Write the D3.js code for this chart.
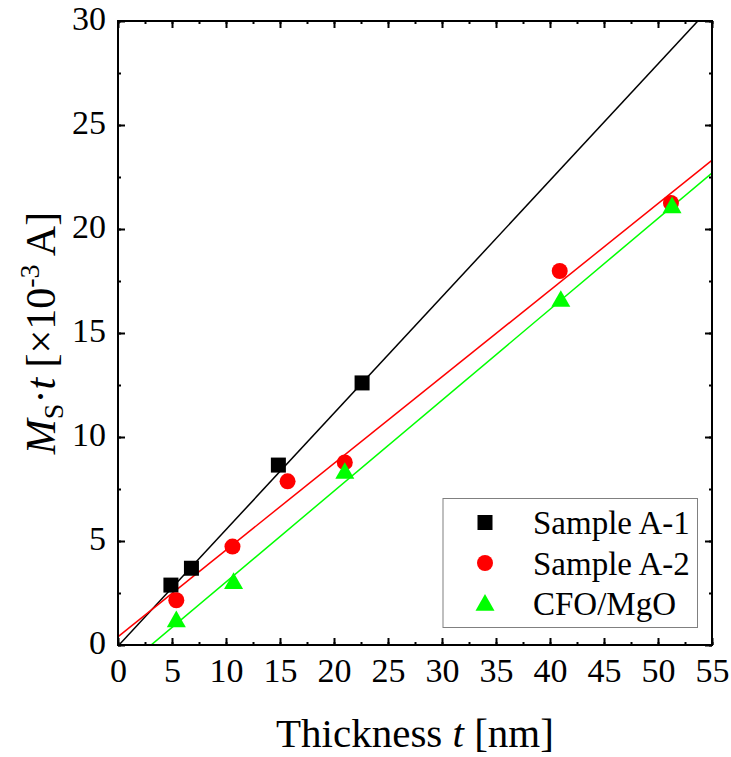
<!DOCTYPE html>
<html><head><meta charset="utf-8">
<script src="https://cdn.jsdelivr.net/npm/d3@7"></script>
<style>body{margin:0;background:#fff}svg{display:block}text{font-family:"Liberation Serif","Times New Roman",serif;fill:#000}</style>
</head><body>
<script>
const seriesNames = ["Sample A-1", "Sample A-2", "CFO/MgO"];
const seriesColors = ["#000000", "#ff0000", "#00ff00"];
const seriesShapes = ["square", "circle", "triangle"];
const a1X = [4.9, 6.8, 14.85, 22.6];
const a1Y = [2.88, 3.69, 8.65, 12.6];
const a2X = [5.4, 10.6, 15.7, 21.0, 40.9, 51.2];
const a2Y = [2.15, 4.73, 7.87, 8.78, 17.98, 21.25];
const cfoX = [5.4, 10.7, 21.0, 41.0, 51.3];
const cfoY = [1.2, 3.04, 8.33, 16.6, 21.1];
const fitSlope = [0.5597, 0.4164, 0.437];
const fitIntercept = [-0.05, 0.4, -1.34];
const xTicks = [0, 5, 10, 15, 20, 25, 30, 35, 40, 45, 50, 55];
const yTicks = [0, 5, 10, 15, 20, 25, 30];

const W = 731, H = 757;
const m = {l: 118, t: 21, r: 712, b: 645};
const svg = d3.select("body").append("svg").attr("width", W).attr("height", H);
const x = d3.scaleLinear().domain([0, 55]).range([m.l, m.r]);
const y = d3.scaleLinear().domain([0, 30]).range([m.b, m.t]);

svg.append("clipPath").attr("id", "clip").append("rect")
  .attr("x", m.l).attr("y", m.t).attr("width", m.r - m.l).attr("height", m.b - m.t);

// fit lines
const g = svg.append("g").attr("clip-path", "url(#clip)");
fitSlope.forEach((s, i) => {
  const b = fitIntercept[i];
  g.append("line")
    .attr("x1", x(-5)).attr("y1", y(s * -5 + b))
    .attr("x2", x(60)).attr("y2", y(s * 60 + b))
    .attr("stroke", seriesColors[i]).attr("stroke-width", 1.5);
});

function symbol(sel, shape, color, cx, cy) {
  if (shape === "square") {
    sel.append("rect").attr("x", cx - 7.5).attr("y", cy - 7.5).attr("width", 15).attr("height", 15).attr("fill", color);
  } else if (shape === "circle") {
    sel.append("circle").attr("cx", cx).attr("cy", cy).attr("r", 8).attr("fill", color);
  } else {
    const s = 9.5;
    sel.append("path").attr("d", `M${cx},${cy - s}L${cx + s},${cy + s * 0.75}L${cx - s},${cy + s * 0.75}Z`).attr("fill", color);
  }
}
const sets = [[a1X, a1Y], [a2X, a2Y], [cfoX, cfoY]];
const pg = svg.append("g");
sets.forEach(([xs, ys], i) => {
  xs.forEach((v, j) => symbol(pg, seriesShapes[i], seriesColors[i], x(v), y(ys[j])));
});

// axes (ticks inward)
const fs = 34;
const xMinor = d3.range(0, 55.01, 2.5);
const yMinor = d3.range(0, 30.01, 2.5);
function addAxis(axis, transform, showLabels) {
  const a = svg.append("g").attr("transform", transform).call(axis);
  a.select(".domain").remove();
  a.selectAll("line").attr("stroke", "#000").attr("stroke-width", 2);
  if (!showLabels) a.selectAll("text").remove();
  else a.selectAll("text").style("font-size", fs + "px").style("font-family", '"Liberation Serif",serif').attr("fill", "#000");
  return a;
}
const fmt = d3.format("d");
addAxis(d3.axisBottom(x).tickValues(xMinor).tickSize(-3).tickFormat(""), `translate(0,${m.b})`, false);
addAxis(d3.axisBottom(x).tickValues(xTicks).tickSize(-7).tickPadding(13).tickFormat(fmt), `translate(0,${m.b})`, true);
addAxis(d3.axisTop(x).tickValues(xMinor).tickSize(-3).tickFormat(""), `translate(0,${m.t})`, false);
addAxis(d3.axisTop(x).tickValues(xTicks).tickSize(-7).tickFormat(""), `translate(0,${m.t})`, false);
addAxis(d3.axisLeft(y).tickValues(yMinor).tickSize(-3).tickFormat(""), `translate(${m.l},0)`, false);
const yl = addAxis(d3.axisLeft(y).tickValues(yTicks).tickSize(-7).tickPadding(12).tickFormat(fmt), `translate(${m.l},0)`, true);
yl.selectAll("text").attr("dy", "0.25em");
addAxis(d3.axisRight(y).tickValues(yMinor).tickSize(-3).tickFormat(""), `translate(${m.r},0)`, false);
addAxis(d3.axisRight(y).tickValues(yTicks).tickSize(-7).tickFormat(""), `translate(${m.r},0)`, false);

svg.append("rect").attr("x", m.l).attr("y", m.t).attr("width", m.r - m.l).attr("height", m.b - m.t)
  .attr("fill", "none").attr("stroke", "#000").attr("stroke-width", 2);

// legend
const lg = svg.append("g");
lg.append("rect").attr("x", 443).attr("y", 498.5).attr("width", 254.5).attr("height", 129)
  .attr("fill", "#fff").attr("stroke", "#808080").attr("stroke-width", 1);
seriesNames.forEach((n, i) => {
  const cy = 522.5 + i * 40.5;
  symbol(lg, seriesShapes[i], seriesColors[i], 485, cy);
  lg.append("text").attr("x", 533).attr("y", cy).attr("dy", "0.35em").style("font-size", "33px").text(n);
});

// axis titles
const xt = svg.append("text").attr("x", (m.l + m.r) / 2).attr("y", 747).attr("text-anchor", "middle").style("font-size", "41px");
xt.append("tspan").text("Thickness ");
xt.append("tspan").style("font-style", "italic").text("t");
xt.append("tspan").text(" [nm]");

const yt = svg.append("text").attr("transform", "translate(55,333) rotate(-90)").attr("text-anchor", "middle").style("font-size", "42px");
yt.append("tspan").style("font-style", "italic").text("M");
yt.append("tspan").attr("dy", 8).style("font-size", "28px").text("S");
yt.append("tspan").attr("dy", -8).text("·");
yt.append("tspan").style("font-style", "italic").text("t");
yt.append("tspan").text(" [×10");
yt.append("tspan").attr("dy", -16).style("font-size", "28px").text("-3");
yt.append("tspan").attr("dy", 16).text(" A]");
</script>
</body></html>
